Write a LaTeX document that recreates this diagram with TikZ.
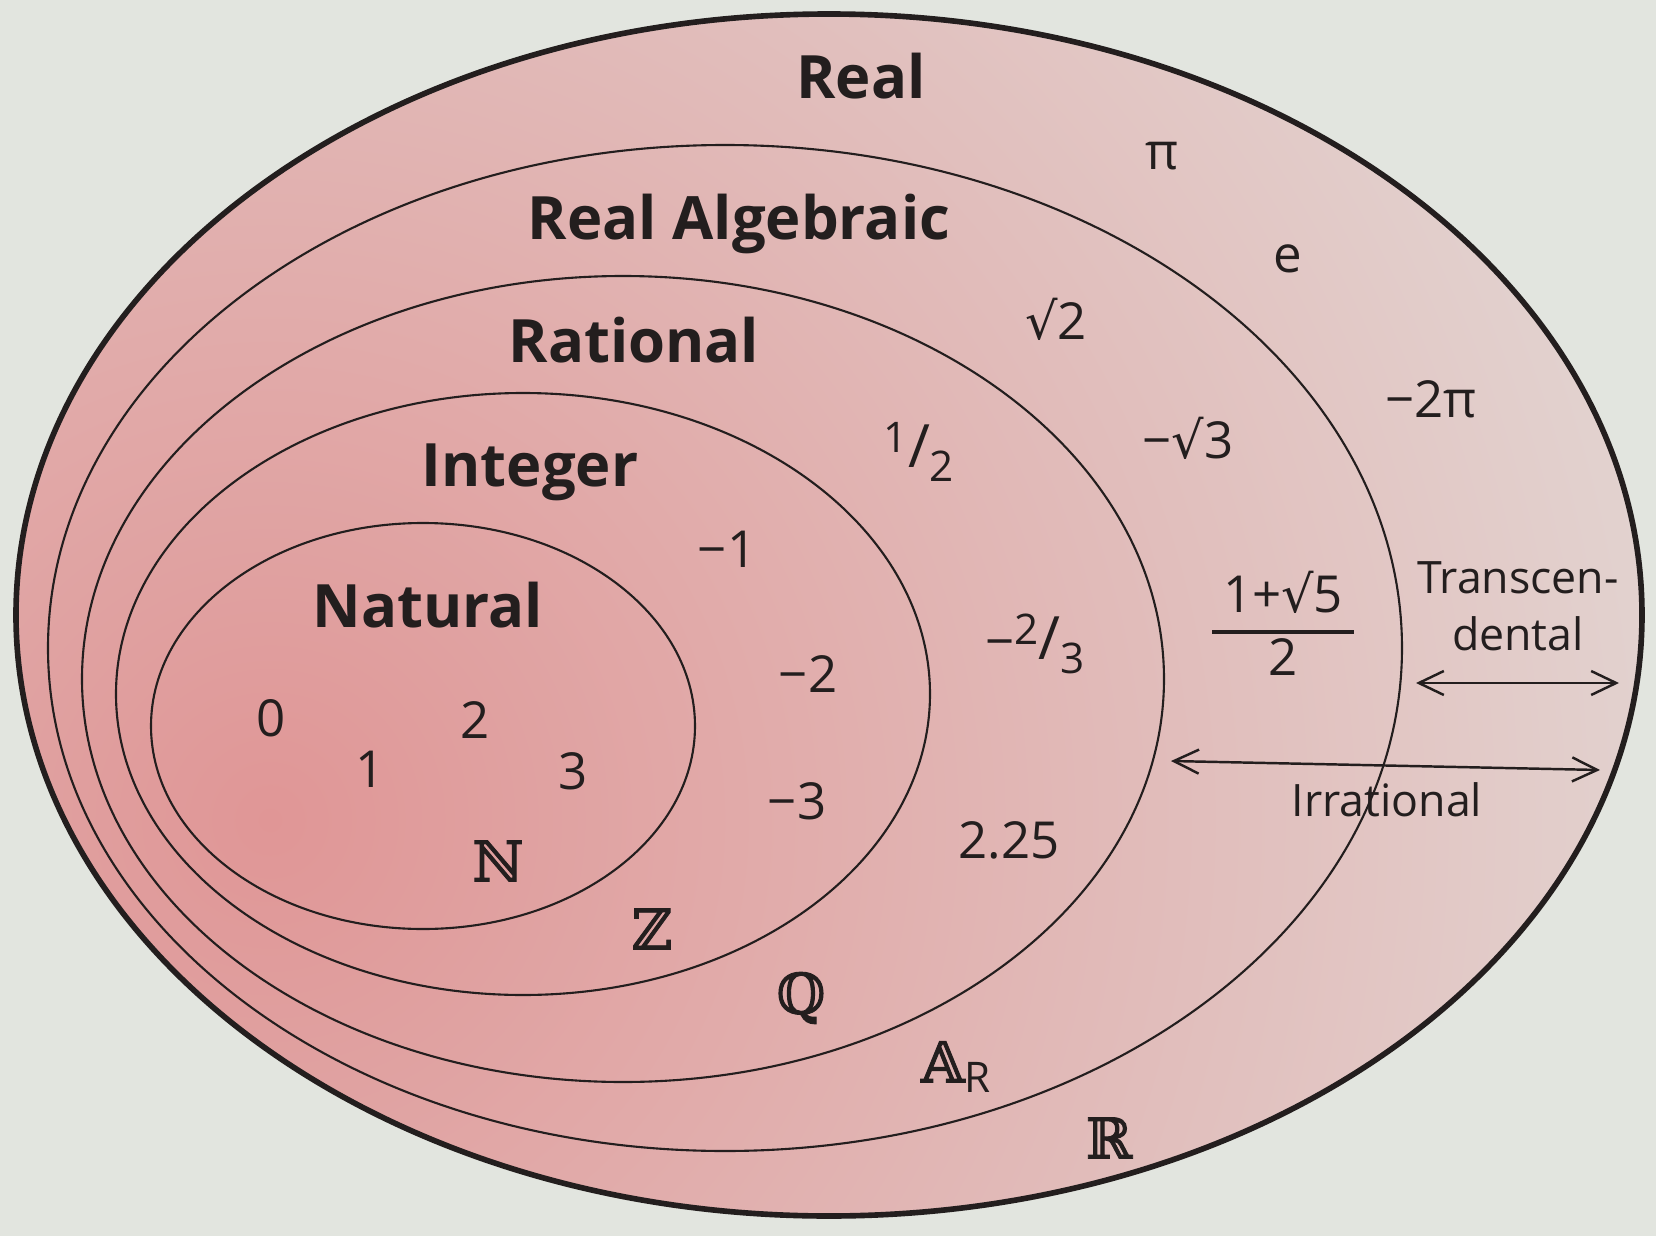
\documentclass[tikz,border=0pt]{standalone}
\usepackage{fontspec}
\setmainfont{Open Sans}
\newfontfamily\symfont{DejaVu Sans}
\newfontfamily\bbfont[FakeBold=1.6]{DejaVu Serif}
\usetikzlibrary{arrows.meta,positioning}
\definecolor{bgc}{RGB}{226,229,223}
\definecolor{pinkdeep}{RGB}{224,150,150}
\definecolor{pinkpale}{RGB}{226,210,207}
\definecolor{ink}{RGB}{35,30,30}
\tikzset{%
   ring/.style={
      draw=ink,
      line width=0.6pt
   },
   rim/.style={
      draw=ink,
      line width=1.6pt
   },
   setname/.style={
      text=ink,
      font=\bfseries\fontsize{17}{20}\selectfont
   },
   num/.style={
      text=ink,
      font=\fontsize{14.5}{17}\selectfont
   },
   small/.style={
      text=ink,
      inner sep=0pt,
      font=\fontsize{12.7}{15}\selectfont
   },
   bb/.style={
      text=ink,
      font=\bbfont\fontsize{16}{18}\selectfont
   },
   both/.style={
      draw=ink,
      line width=0.7pt,
      {Straight Barb[length=2.5mm,width=2.4mm]}-{Straight Barb[length=2.5mm,width=2.4mm]}
   },
}
\newcommand\rt{{\symfont √}}
\newcommand\vfr[2]{%
  \raisebox{0.55ex}{\fontsize{12}{12}\selectfont #1}%
  {\fontsize{17}{17}\selectfont /}%
  \raisebox{-0.5ex}{\fontsize{12}{12}\selectfont #2}%
}

\begin{document}
\begin{tikzpicture}[x=0.01cm, y=-0.01cm, inner sep=1pt]
      \useasboundingbox (0,0) rectangle (1656,1236);
      \fill[bgc] (0,0) rectangle (1656,1236);
      \begin{scope}
         \clip (829,615) ellipse [x radius=813, y radius=601];
         \shade[inner color=pinkdeep, outer color=pinkpale] (270,820) circle [radius=1400];
      \end{scope}
      \draw[rim] (829,615) ellipse [x radius=813, y radius=601];
      \draw[ring] (725,648) ellipse [x radius=677, y radius=503];
      \draw[ring] (623,679) ellipse [x radius=541, y radius=403];
      \draw[ring] (523,694) ellipse [x radius=407, y radius=301];
      \draw[ring] (423,726) ellipse [x radius=272, y radius=203];
      \node[setname] (real) at (861,76) {Real};
      \node[setname] (alg) at (739,224) {Real Algebraic};
      \node[setname] (rat) at (634,340) {Rational};
      \node[setname] (int) at (530,472) {Integer};
      \node[setname] (nat) at (428,605) {Natural};
      \node[num] (pi) at (1162,156) {π};
      \node[num] (e) at (1288,259) {e};
      \node[num] (sqtwo) at (1056,319) {\rt2};
      \node[num] (mtwopi) at (1431,399) {−2π};
      \node[num] (msqthree) at (1188,438) {−\rt3};
      \node[num] (half) at (919,452) {\vfr12};
      \node[num] (mone) at (727,549) {−1};
      \node[num] (mtwothirds) at (1035,644) {−\vfr23};
      \node[num] (phi) at (1283,632) {\setlength{\tabcolsep}{3pt}\setlength{\arrayrulewidth}{0.9pt}%
         \begin{tabular}{c}1+\rt5\\\hline 2\end{tabular}};
      \node[small] (trans) at (1518,578) {Transcen-};
      \node[small, below=6pt of trans] (dental) {dental};
      \node[num] (mtwo) at (808,674) {−2};
      \node[num] (zero) at (271,718) {0};
      \node[num] (one) at (370,769) {1};
      \node[num] (two) at (475,720) {2};
      \node[num] (three) at (573,771) {3};
      \node[num] (mthree) at (797,801) {−3};
      \node[small] (irr) at (1387,800) {Irrational};
      \node[num] (dec) at (1009,840) {2.25};
      \node[bb] (N) at (498,861) {ℕ};
      \node[bb] (Z) at (652,929) {ℤ};
      \node[bb] (Q) at (801,998) {ℚ};
      \node[bb] (A) at (956,1067) {𝔸\raisebox{-0.35ex}{\normalfont\fontsize{12}{12}\selectfont R}};
      \node[bb] (R) at (1109,1138) {ℝ};
      \coordinate (tl) at (1416,683);
      \coordinate (tr) at (1619,683);
      \coordinate (il) at (1171,761);
      \coordinate (ir) at (1600,770);
      \draw[both] (tl) -- (tr);
      \draw[both] (il) -- (ir);
   \end{tikzpicture}
\end{document}
